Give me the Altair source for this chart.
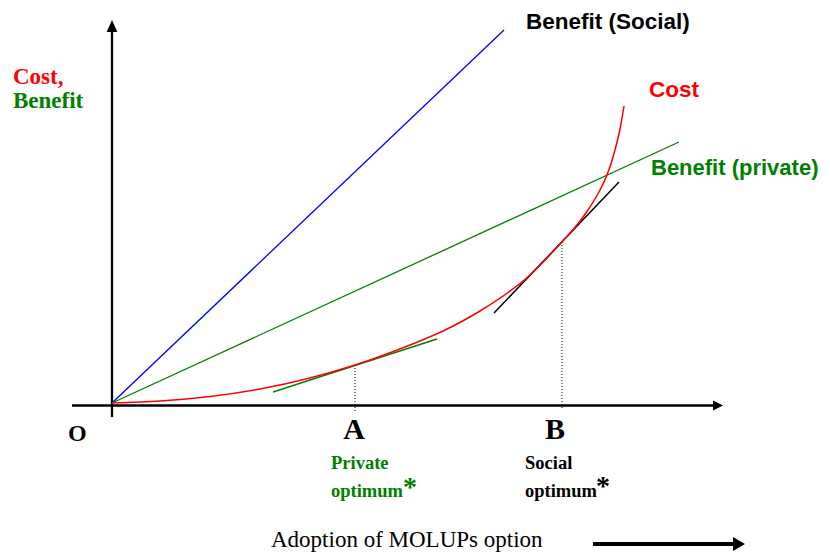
import altair as alt
import pandas as pd

# Diagram coordinates: origin O at (0, 0); x = adoption, y = cost / benefit
X_DOMAIN = [-104, 710]
Y_DOMAIN = [-149, 395]
W, H = 814, 544

# Cost curve (convex)
cost_x = [0, 48, 98, 148, 198, 243, 298, 331, 368, 418, 448, 468, 476, 491, 495, 503, 508, 512]
cost_y = [0, 2, 6.5, 14, 25, 38, 58, 72, 92, 128, 159, 182, 193, 219, 228, 253, 274, 297]

# Straight lines: [x, y, x2, y2]
social_benefit = [0, 0, 392, 373]
private_benefit = [0, 0, 567, 261]
tangent_a = [161, 11, 325, 64]
tangent_b = [382, 90, 507, 221]

# Optimum drop lines: x, top, bottom
optima_x = [243, 450]
optima_top = [38, 161]
optima_bottom = [-9, -7]

# Axes
y_axis = [0, -14, 0, 371]
x_axis = [-40, -2.5, 601, -2.5]
adoption_arrow = [481, -141, 623, -141]
y_head = [0, 377]
x_head = [606, -2.5]
adoption_head = [627, -141]

xs = alt.Scale(domain=X_DOMAIN, nice=False, zero=False)
ys = alt.Scale(domain=Y_DOMAIN, nice=False, zero=False)


def seg(vals, color, width, dash=None):
    df = pd.DataFrame([dict(x=vals[0], y=vals[1], x2=vals[2], y2=vals[3])])
    kw = dict(color=color, strokeWidth=width)
    if dash:
        kw["strokeDash"] = dash
    return alt.Chart(df).mark_rule(**kw).encode(
        x=alt.X("x:Q", scale=xs, axis=None),
        y=alt.Y("y:Q", scale=ys, axis=None),
        x2="x2:Q", y2="y2:Q")


def head(pos, shape, size):
    df = pd.DataFrame([dict(x=pos[0], y=pos[1])])
    return alt.Chart(df).mark_point(shape=shape, size=size, filled=True, color="black",
                                    opacity=1, strokeWidth=0).encode(
        x=alt.X("x:Q", scale=xs, axis=None), y=alt.Y("y:Q", scale=ys, axis=None))


def label(text, x, y, color, font, size, weight="bold", align="left", baseline="alphabetic"):
    df = pd.DataFrame([dict(x=x, y=y, t=text)])
    return alt.Chart(df).mark_text(font=font, fontSize=size, fontWeight=weight, color=color,
                                   align=align, baseline=baseline).encode(
        x=alt.X("x:Q", scale=xs, axis=None), y=alt.Y("y:Q", scale=ys, axis=None), text="t:N")


SERIF = "Liberation Serif"
SANS = "Liberation Sans"
RED, GREEN, BLUE = "#ff0000", "#008000", "#0000ff"

cost_df = pd.DataFrame({"x": cost_x, "y": cost_y, "o": range(len(cost_x))})
cost = alt.Chart(cost_df).mark_line(color=RED, strokeWidth=1.5, interpolate="monotone").encode(
    x=alt.X("x:Q", scale=xs, axis=None), y=alt.Y("y:Q", scale=ys, axis=None), order="o:Q")

layers = [
    seg(y_axis, "black", 2.3),
    seg(x_axis, "black", 2.3),
    seg(adoption_arrow, "black", 4),
    head(y_head, "M0,-1L0.9,1L-0.9,1Z", 144),
    head(x_head, "M1,0L-1,-1L-1,1Z", 100),
    head(adoption_head, "M0.85,0L-0.85,-1L-0.85,1Z", 196),
]
for xv, top, bot in zip(optima_x, optima_top, optima_bottom):
    layers.append(seg([xv, top, xv, bot], "black", 1, [1, 2]))
layers += [
    seg(social_benefit, BLUE, 1.3),
    seg(private_benefit, GREEN, 1.3),
    seg(tangent_a, GREEN, 1.5),
    seg(tangent_b, "black", 1.5),
    cost,
    label("Cost,", -99, 319, RED, SERIF, 23),
    label("Benefit", -99, 295, GREEN, SERIF, 23),
    label("O", -44, -38, "black", SERIF, 24),
    label("A", 242, -36, "black", SERIF, 30, align="center"),
    label("B", 443, -36, "black", SERIF, 30, align="center"),
    label("Private", 219, -66, GREEN, SERIF, 18.5),
    label("optimum", 219, -94, GREEN, SERIF, 18.5),
    label("*", 298, -85, GREEN, SERIF, 28, align="center", baseline="middle"),
    label("Social", 413, -66, "black", SERIF, 18.5),
    label("optimum", 413, -94, "black", SERIF, 18.5),
    label("*", 491, -84, "black", SERIF, 28, align="center", baseline="middle"),
    label("Benefit (Social)", 414, 374.5, "black", SANS, 22.5),
    label("Cost", 537, 306, RED, SANS, 22.5),
    label("Benefit (private)", 539, 228, GREEN, SANS, 22),
    label("Adoption of MOLUPs option", 159, -143.5, "black", SERIF, 23, weight="normal"),
]

chart = alt.layer(*layers).properties(
    width=W, height=H, padding=0, autosize=alt.AutoSizeParams(type="none"),
    background="white",
).configure_view(stroke=None)

chart.save("out.html", embed_options={"renderer": "svg", "actions": False})
